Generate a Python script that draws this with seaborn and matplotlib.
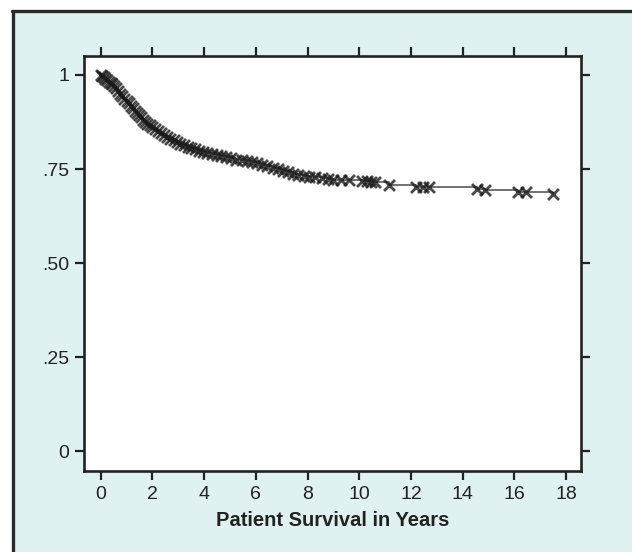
import numpy as np
import pandas as pd
import matplotlib
matplotlib.use("Agg")
import matplotlib.pyplot as plt
import seaborn as sns
from matplotlib.lines import Line2D
from matplotlib.patches import Rectangle

# survival estimate (years, proportion surviving)
years = [0.00, 0.05, 0.12, 0.18, 0.25, 0.31, 0.38, 0.45, 0.52, 0.60,
         0.68, 0.76, 0.84, 0.92, 1.00, 1.08, 1.16, 1.24, 1.32, 1.40,
         1.48, 1.56, 1.64, 1.72, 1.80, 1.90, 2.00, 2.10, 2.22, 2.34,
         2.46, 2.58, 2.70, 2.82, 2.95, 3.08, 3.22, 3.36, 3.50, 3.65,
         3.80, 3.95, 4.12, 4.30, 4.48, 4.66, 4.85, 5.05, 5.25, 5.45,
         5.65, 5.85, 6.05, 6.25, 6.45, 6.65, 6.85, 7.05, 7.25, 7.45,
         7.65, 7.85, 8.05, 8.30, 8.55, 8.80, 9.00, 9.30, 9.60, 10.10,
         10.30, 10.45, 10.60, 11.15, 12.20, 12.45, 12.70, 14.55, 14.85, 16.15,
         16.45, 17.50]
survival = [1.000, 0.998, 0.994, 0.990, 0.986, 0.982, 0.978, 0.975, 0.971, 0.965,
            0.958, 0.950, 0.943, 0.937, 0.932, 0.925, 0.918, 0.911, 0.904, 0.898,
            0.893, 0.887, 0.881, 0.876, 0.871, 0.866, 0.861, 0.856, 0.851, 0.846,
            0.840, 0.835, 0.830, 0.826, 0.821, 0.817, 0.813, 0.809, 0.806, 0.802,
            0.799, 0.796, 0.793, 0.790, 0.787, 0.784, 0.781, 0.778, 0.775, 0.773,
            0.770, 0.768, 0.765, 0.761, 0.758, 0.753, 0.749, 0.746, 0.742, 0.738,
            0.735, 0.732, 0.730, 0.728, 0.726, 0.724, 0.722, 0.721, 0.720, 0.718,
            0.717, 0.716, 0.715, 0.707, 0.703, 0.703, 0.702, 0.696, 0.695, 0.690,
            0.689, 0.684]

x_ticks = [0, 2, 4, 6, 8, 10, 12, 14, 16, 18]
y_ticks = [0, 0.25, 0.50, 0.75, 1]
y_labels = ["0", ".25", ".50", ".75", "1"]

df = pd.DataFrame({"years": years, "survival": survival})

sns.set_style("ticks")
plt.rcParams["font.family"] = ["Liberation Sans", "DejaVu Sans"]

fig = plt.figure(figsize=(6.32, 5.52), dpi=100)
fig.patch.set_facecolor("white")

# light cyan panel with a dark frame on top and left
W, H = 632, 552
fig.add_artist(Rectangle((12 / W, 0), 1 - 12 / W, 1 - 10 / H,
                         transform=fig.transFigure, facecolor="#dff1f1",
                         edgecolor="none", zorder=0))
fig.add_artist(Line2D([12 / W, 1], [1 - 11 / H, 1 - 11 / H],
                      transform=fig.transFigure, color="#2a2a2a", lw=2.4))
fig.add_artist(Line2D([13 / W, 13 / W], [0, 1 - 11 / H],
                      transform=fig.transFigure, color="#2a2a2a", lw=2.4))

ax = fig.add_axes([84 / W, 1 - 471 / H, (581 - 84) / W, (471 - 56) / H])
ax.set_facecolor("white")

sns.lineplot(data=df, x="years", y="survival", ax=ax, color="#4a4a4a",
             lw=1.1, drawstyle="steps-post", estimator=None, sort=True)
sns.scatterplot(data=df, x="years", y="survival", ax=ax, marker="x",
                color="#1a1a1a", s=62, linewidth=2.0, alpha=0.8, zorder=3)

ax.set_xlim(-0.646, 18.58)
ax.set_ylim(-0.053, 1.0505)
ax.set_xticks(x_ticks)
ax.set_xticklabels([str(t) for t in x_ticks])
ax.set_yticks(y_ticks)
ax.set_yticklabels(y_labels)

for s in ax.spines.values():
    s.set_visible(True)
    s.set_color("#222222")
    s.set_linewidth(1.9)

ax.tick_params(axis="both", which="both", direction="out", length=6.5,
               width=1.6, color="#222222", labelsize=14, labelcolor="#222222",
               top=True, right=True, labeltop=False, labelright=False)
ax.tick_params(axis="y", pad=4)
ax.tick_params(axis="x", pad=4)

ax.set_xlabel("Patient Survival in Years", fontsize=14.5, fontweight="bold",
              color="#222222", labelpad=6)
ax.set_ylabel("")

fig.savefig("out.png", dpi=100, facecolor=fig.get_facecolor())
